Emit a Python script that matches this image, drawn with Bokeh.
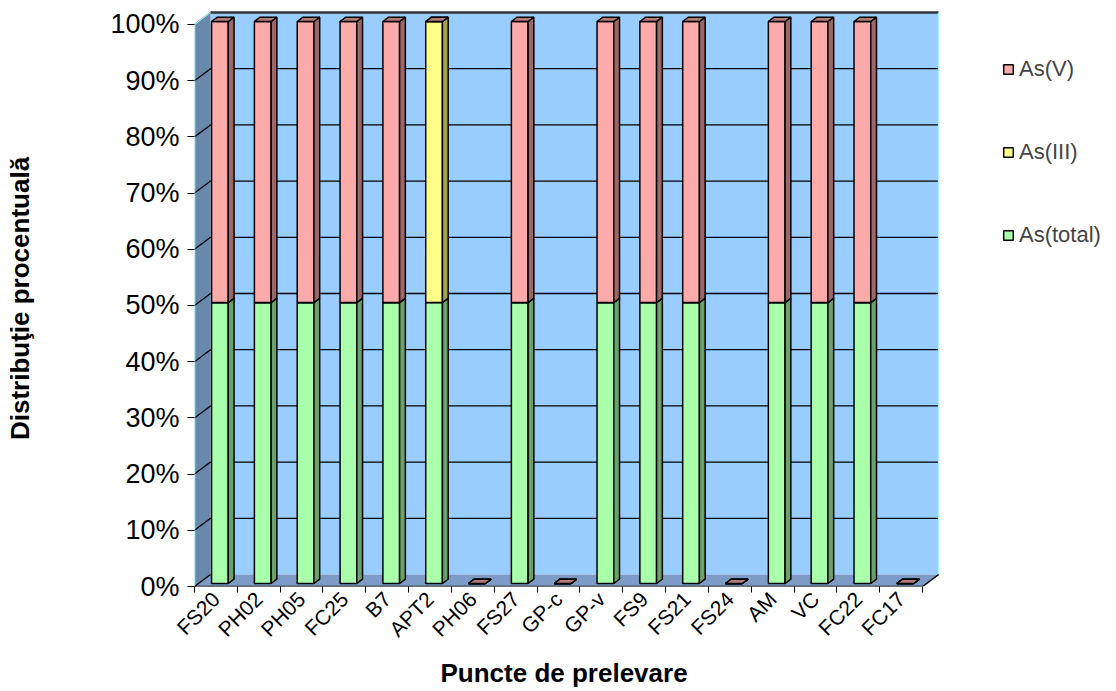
import math
from bokeh.plotting import figure
from bokeh.models import Range1d, FixedTicker, Legend, LegendItem, Title
from bokeh.embed import file_html
from bokeh.resources import INLINE

# ---------------- data ----------------
categories = ["FS20", "PH02", "PH05", "FC25", "B7", "APT2", "PH06", "FS27", "GP-c",
              "GP-v", "FS9", "FS21", "FS24", "AM", "VC", "FC22", "FC17"]
as_total = [50, 50, 50, 50, 50, 50, 0, 50, 0, 50, 50, 50, 0, 50, 50, 50, 0]
as_iii = [0, 0, 0, 0, 0, 50, 0, 0, 0, 0, 0, 0, 0, 0, 0, 0, 0]
as_v = [50, 50, 50, 50, 50, 0, 0, 50, 0, 50, 50, 50, 0, 50, 50, 50, 0]
y_ticks = [0, 10, 20, 30, 40, 50, 60, 70, 80, 90, 100]
y_tick_labels = ["0%", "10%", "20%", "30%", "40%", "50%", "60%", "70%", "80%", "90%", "100%"]

# series: (label, values, front colour, side colour, top colour)
series = [
    ("As(total)", as_total, "#AAFFAA", "#6AA36A", "#7DB87D"),
    ("As(III)", as_iii, "#FFFF88", "#A3A35A", "#B8B86A"),
    ("As(V)", as_v, "#FFAAAA", "#9E6666", "#B27A7A"),
]

# ---------------- 3-D style constants ----------------
n = len(categories)
DX = 0.374      # depth shift of the back wall (x units)
DY = 2.135      # depth shift of the back wall (percent units)
F0, F1 = 0.25, 0.61   # bar front / back depth fractions
W = 0.39        # bar width (x units)
FONT = "Liberation Sans"

p = figure(width=1116, height=691,
           x_range=Range1d(0, 21.48), y_range=Range1d(0, 102.49),
           output_backend="svg", toolbar_location=None,
           min_border_left=194, min_border_right=2,
           min_border_top=10, min_border_bottom=105)
p.outline_line_color = None
p.background_fill_color = "white"
p.border_fill_color = "white"
p.grid.visible = False
top_v = y_ticks[-1]

# back wall
p.patch([DX, n + DX, n + DX, DX], [DY, DY, top_v + DY, top_v + DY],
        fill_color="#99CCFF", line_color=None)
# left wall
p.patch([0, DX, DX, 0], [0, DY, top_v + DY, top_v],
        fill_color="#6889AB", line_color=None)
# floor
p.patch([0, n, n + DX, DX], [0, 0, DY, DY],
        fill_color="#7C9CC7", line_color=None)

# gridlines on back wall and left wall
gx, gy = [], []
for v in y_ticks[1:-1]:
    gx.append([DX, n + DX]); gy.append([v + DY, v + DY])
for v in y_ticks:
    gx.append([0, DX]); gy.append([v, v + DY])
p.multi_line(gx, gy, line_color="black", line_width=1.3)
# wall top edge
p.line([DX, n + DX], [top_v + DY, top_v + DY], line_color="#333333", line_width=2.5)
# light edges
p.multi_line([[0, 0, DX], [n + DX, n + DX]], [[0, top_v, top_v + DY], [DY, top_v + DY]],
             line_color="#A8F4FF", line_width=1.5)
# floor front and right edges
p.line([0, n, n + DX], [0, 0, DY], line_color="black", line_width=1.5)

# ---------------- bars ----------------
legend_front = {}
bottoms = [0.0] * n
dd = (F1 - F0) * DX
for label, vals, c_front, c_side, c_top in series:
    lefts = [i + 0.5 - W / 2 + F0 * DX for i in range(n)]
    rights = [l + W for l in lefts]
    b = bottoms
    t = [b[i] + vals[i] for i in range(n)]
    fr = p.quad(left=lefts, right=rights,
                bottom=[v + F0 * DY for v in b], top=[v + F0 * DY for v in t],
                fill_color=c_front, line_color="black", line_width=1.5)
    p.patches([[rights[i], rights[i] + dd, rights[i] + dd, rights[i]] for i in range(n)],
              [[b[i] + F0 * DY, b[i] + F1 * DY, t[i] + F1 * DY, t[i] + F0 * DY] for i in range(n)],
              fill_color=c_side, line_color="black", line_width=1.5)
    p.patches([[lefts[i], rights[i], rights[i] + dd, lefts[i] + dd] for i in range(n)],
              [[t[i] + F0 * DY, t[i] + F0 * DY, t[i] + F1 * DY, t[i] + F1 * DY] for i in range(n)],
              fill_color=c_top, line_color="black", line_width=1.5)
    legend_front[label] = fr
    bottoms = t

# ---------------- axes ----------------
xa = p.xaxis[0]
xa.ticker = FixedTicker(ticks=[i + 0.5 for i in range(n)], minor_ticks=list(range(n + 1)))
xa.major_label_overrides = {i + 0.5: c for i, c in enumerate(categories)}
xa.major_label_orientation = math.pi / 4
xa.major_tick_out = 0
xa.major_tick_in = 0
xa.minor_tick_out = 6
xa.minor_tick_in = 0
xa.minor_tick_line_color = "black"
xa.axis_line_color = None
xa.major_label_text_font = FONT
xa.major_label_text_font_size = "21px"
xa.major_label_text_color = "black"
xa.major_label_standoff = 3

ya = p.yaxis[0]
ya.ticker = FixedTicker(ticks=y_ticks, minor_ticks=[])
ya.major_label_overrides = {v: s for v, s in zip(y_ticks, y_tick_labels)}
ya.major_tick_out = 7
ya.major_tick_in = 0
ya.major_tick_line_color = "black"
ya.axis_line_color = None
ya.major_label_text_font = FONT
ya.major_label_text_font_size = "27px"
ya.major_label_text_color = "black"
ya.major_label_standoff = 8
ya.axis_label = "Distribuţie procentuală"
ya.axis_label_text_font = FONT
ya.axis_label_text_font_style = "bold"
ya.axis_label_text_font_size = "26px"
ya.axis_label_text_color = "black"
ya.axis_label_standoff = 72

# x axis title
p.add_layout(Title(text="Puncte de prelevare", align="left", offset=246, standoff=8,
                   text_font=FONT, text_font_style="bold", text_font_size="26px",
                   text_color="black"), "below")

# ---------------- legend ----------------
items = [LegendItem(label=lab, renderers=[legend_front[lab]]) for lab in ["As(V)", "As(III)", "As(total)"]]
legend = Legend(items=items, location=(808, 338), orientation="vertical",
                glyph_width=12, glyph_height=12, label_height=24,
                label_text_font=FONT, label_text_font_size="22px",
                label_standoff=5, spacing=57, padding=0, margin=0,
                border_line_color=None, background_fill_alpha=0)
p.add_layout(legend)

open("out.html", "w").write(file_html(p, INLINE))
